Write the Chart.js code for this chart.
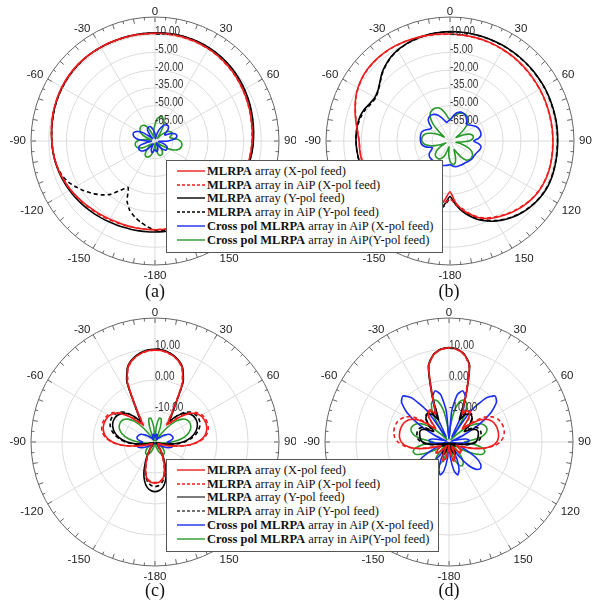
<!DOCTYPE html>
<html><head><meta charset="utf-8">
<script src="https://cdn.jsdelivr.net/npm/chart.js@4.4.1/dist/chart.umd.min.js"></script>
<style>
body{margin:0;background:#fff;width:592px;height:608px;position:relative;overflow:hidden;font-family:"Liberation Serif",serif}
canvas{position:absolute}
.legend{position:absolute;background:#fff;border:1px solid #555;box-sizing:border-box}
.row{position:absolute;left:0;height:14px;white-space:nowrap;font-size:12.5px;line-height:14px;color:#111}
.row svg{position:absolute;left:10px;top:5px}
.row span{position:absolute;left:40px;top:0}
.cap{position:absolute;font-size:18px;width:60px;text-align:center;color:#111}
</style></head><body>
<canvas id="ca" width="296" height="300" style="left:0;top:0"></canvas>
<canvas id="cb" width="296" height="300" style="left:296px;top:0"></canvas>
<canvas id="cc" width="296" height="308" style="left:0;top:300px"></canvas>
<canvas id="cd" width="296" height="308" style="left:296px;top:300px"></canvas>
<div class="cap" style="left:125px;top:281px">(a)</div>
<div class="cap" style="left:419px;top:281px">(b)</div>
<div class="cap" style="left:125px;top:580px">(c)</div>
<div class="cap" style="left:419px;top:580px">(d)</div>
<div id="leg1" class="legend" style="left:166px;top:160px;width:277px;height:93px"></div>
<div id="leg2" class="legend" style="left:166px;top:459px;width:273px;height:93px"></div>
<script>
// angles (deg, clockwise from top), 5 degree steps: 0..175, 180, -175..-5
const angles = [0,5,10,15,20,25,30,35,40,45,50,55,60,65,70,75,80,85,90,95,100,105,110,115,120,125,130,135,140,145,150,155,160,165,170,175,180,-175,-170,-165,-160,-155,-150,-145,-140,-135,-130,-125,-120,-115,-110,-105,-100,-95,-90,-85,-80,-75,-70,-65,-60,-55,-50,-45,-40,-35,-30,-25,-20,-15,-10,-5];
const angleTickLabels = ['0','30','60','90','120','150','-180','-150','-120','-90','-60','-30'];
const rTicksAB = [10, -5, -20, -35, -50, -65];
const rTicksCD = [10, 0, -10];
const seriesNames = ['MLRPA array (X-pol feed)','MLRPA array in AiP (X-pol feed)','MLRPA array (Y-pol feed)','MLRPA array in AiP (Y-pol feed)','Cross pol MLRPA array in AiP (X-pol feed)','Cross pol MLRPA array in AiP(Y-pol feed)'];

// ---------- (a) ----------
const aRedX = [11.2,11.3,11.3,11.2,11.0,10.7,10.3,9.8,9.2,8.5,7.8,7.0,
6.2,5.4,4.6,3.9,3.2,2.7,2.3,1.9,1.4,0.9,0.3,-0.3,
-0.9,-1.5,-2.1,-2.6,-3.1,-3.5,-3.9,-4.2,-4.5,-4.7,-4.8,-4.8,
-4.8,-4.8,-4.7,-4.6,-4.4,-4.1,-3.6,-2.9,-2.0,-1.0,0.1,1.3,
2.5,3.6,4.7,5.6,6.3,6.9,7.4,8.0,8.7,9.4,10.0,10.6,
11.1,11.5,11.8,12.0,12.0,11.9,11.8,11.7,11.5,11.4,11.3,11.2];
const aRedXAiP = [11.0,11.1,11.1,11.0,10.8,10.5,10.1,9.6,9.0,8.3,7.6,6.8,
6.0,5.2,4.4,3.7,3.0,2.5,2.1,1.7,1.2,0.7,0.1,-0.5,
-1.1,-1.7,-2.3,-2.8,-3.3,-3.7,-4.1,-4.4,-4.7,-4.9,-5.0,-5.0,
-5.0,-4.9,-4.8,-4.6,-4.2,-3.7,-3.0,-2.2,-1.4,-0.4,0.6,1.6,
2.7,3.7,4.7,5.6,6.3,6.9,7.4,8.0,8.7,9.4,10.0,10.5,
11.0,11.4,11.7,11.9,11.9,11.8,11.7,11.5,11.4,11.2,11.1,11.0];
const aBlackY = [11.6,11.8,11.9,11.9,11.8,11.6,11.3,10.9,10.4,9.8,9.1,8.3,
7.5,6.7,5.9,5.1,4.4,3.8,3.3,2.8,2.3,1.8,1.2,0.6,
0.0,-0.6,-1.2,-1.7,-2.2,-2.6,-2.9,-3.1,-3.2,-3.2,-3.1,-3.0,
-2.9,-2.8,-2.7,-2.5,-2.2,-1.8,-1.2,-0.5,0.3,1.1,1.9,2.8,
3.6,4.4,5.2,5.9,6.5,7.0,7.4,7.9,8.5,9.1,9.7,10.3,
10.8,11.2,11.5,11.7,11.8,11.8,11.7,11.6,11.5,11.5,11.5,11.5];
const aBlackYAiP = [11.4,11.6,11.7,11.7,11.6,11.4,11.1,10.7,10.2,9.6,8.9,8.1,
7.3,6.5,5.7,4.9,4.2,3.6,3.1,2.6,2.1,1.6,1.0,0.4,
-0.2,-0.8,-1.4,-1.9,-2.4,-2.8,-3.1,-3.3,-3.4,-3.5,-3.7,-4.0,
-4.5,-7.0,-10.2,-13.5,-17.5,-24.0,-34.5,-29.0,-21.0,-15.5,-11.0,-6.5,
-2.5,1.5,4.0,5.6,6.4,6.9,7.3,7.8,8.4,9.0,9.6,10.2,
10.7,11.1,11.4,11.6,11.7,11.7,11.6,11.5,11.4,11.4,11.4,11.4];
const aCrossX = [-74,-76,-78,-74,-70,-67,-64.5,-63.3,-63,-63.8,-66,-70,
-70,-65,-62,-61,-61.5,-64,-69,-76,-77,-74,-71,-69,
-68,-67.8,-68,-69.5,-72,-76,-78,-76,-73,-71.5,-71,-71.5,
-72.5,-72,-70.5,-70,-71,-73,-77,-77,-73,-69.5,-67,-65.5,
-64.8,-64.8,-65.5,-68,-73,-77,-73,-66,-62.5,-61,-60.5,-61.5,
-64,-68,-74,-77,-73,-69,-67.5,-67,-67,-68,-70,-72];
const aCrossY = [-66,-61.5,-59.5,-58.8,-59.5,-62,-67,-74,-77,-73,-69,-66,
-64.5,-64,-65,-67,-66,-61.5,-58.5,-57.3,-57,-57.5,-59,-62,
-67,-74,-78,-76,-72,-69,-67.5,-67,-67,-68,-71,-75,
-78,-75,-71,-68,-66,-65,-64.8,-65.5,-68,-72,-76,-74,
-69,-66,-64,-63.2,-63,-63.5,-65,-68,-73,-77,-74,-69,
-66,-64.5,-63.5,-63,-63,-63.8,-66,-70,-75,-77,-74,-70];

// ---------- (b) ----------
const bRedX = [10.6,10.4,10.3,10.2,10.0,9.8,9.5,9.2,8.9,8.6,8.3,8.0,
7.8,7.6,7.4,7.3,7.2,7.2,7.2,7.3,7.4,7.5,7.4,7.0,
6.2,5.0,3.4,1.6,-0.5,-2.8,-5.0,-7.5,-11.0,-16.0,-21.0,-28.0,
-37.0,-30.0,-22.0,-17.0,-13.0,-10.0,-7.5,-6.0,-5.0,-4.5,-4.3,-4.3,
-4.3,-4.2,-4.0,-3.7,-3.4,-3.2,-3.0,-1.5,0.5,3.0,5.5,8.0,
10.0,11.5,12.5,13.0,13.2,13.2,13.0,12.6,12.2,11.7,11.3,10.9];
const bRedXAiP = [10.4,10.2,10.1,10.0,9.8,9.6,9.3,9.0,8.7,8.4,8.1,7.8,
7.6,7.4,7.2,7.1,7.0,7.0,7.0,7.1,7.2,7.3,7.2,6.8,
6.0,4.8,3.1,1.2,-0.9,-3.2,-5.5,-8.0,-11.5,-16.5,-22.0,-26.0,
-31.0,-27.0,-21.0,-16.5,-13.0,-10.0,-7.8,-6.2,-5.2,-4.7,-4.5,-4.4,
-4.4,-4.3,-4.1,-3.8,-3.5,-3.3,-3.1,-1.7,0.3,2.8,5.3,7.8,
9.8,11.3,12.3,12.8,13.0,13.0,12.8,12.4,12.0,11.5,11.1,10.7];
const bBlackY = [12.6,12.6,12.6,12.6,12.6,12.5,12.5,12.4,12.3,12.2,12.1,12.0,
12.0,11.8,11.6,11.5,11.4,11.3,11.2,11.2,11.3,11.4,11.5,11.3,
10.5,9.3,7.8,6.0,3.8,1.2,-1.8,-5.2,-9.0,-14.0,-19.5,-26.0,
-33.0,-26.0,-19.5,-15.0,-11.5,-9.0,-7.2,-5.8,-4.8,-4.0,-3.5,-3.0,
-2.6,-2.2,-1.9,-1.5,-1.1,-0.7,-0.4,-0.3,-0.4,-1.0,-2.5,-5.0,
-6.5,-5.5,-2.5,1.5,4.5,7.0,8.8,10.0,11.0,11.7,12.2,12.5];
const bBlackYAiP = [12.4,12.4,12.4,12.4,12.4,12.3,12.3,12.2,12.1,12.0,11.9,11.8,
11.8,11.6,11.4,11.3,11.2,11.1,11.0,11.0,11.1,11.2,11.3,11.1,
10.3,9.1,7.6,5.7,3.4,0.8,-2.3,-5.8,-9.8,-15.0,-20.5,-27.0,
-31.0,-25.0,-19.0,-14.5,-11.2,-8.8,-7.0,-5.6,-4.6,-3.9,-3.4,-2.9,
-2.5,-2.1,-1.8,-1.4,-1.0,-0.6,-0.4,-0.4,-0.8,-1.8,-3.5,-6.0,
-7.2,-5.8,-2.8,1.0,4.2,6.8,8.6,9.8,10.8,11.5,12.0,12.3];
const bCrossX = [-62,-60,-57,-55,-54,-54,-54.5,-56,-58,-60,-59,-57,
-55,-53.8,-53.2,-53,-53.5,-56,-60,-56,-53.3,-53.5,-54.5,-55.5,
-56,-56,-56,-56.5,-57,-57.5,-57.5,-57.5,-57.6,-57.6,-58,-59,
-60,-59.5,-59,-58.5,-58,-58,-58,-58,-58,-58,-58,-58.5,
-60,-63,-64,-60,-57,-55.5,-55,-54.8,-54.6,-54.6,-55.5,-57.5,
-60,-61,-57,-54,-53,-53,-54,-56,-59,-62,-64,-63];
const bCrossY = [-62,-60,-58,-56.5,-55,-54.2,-54,-54.5,-56,-59,-64,-70,
-74,-68,-63,-60.5,-60,-61,-64,-70,-75,-70,-64,-60,
-58,-57.2,-57,-57.5,-59,-63,-69,-72,-67,-62,-60,-60.5,
-63,-68,-75,-72,-67,-64,-62.5,-62,-62,-62.5,-64,-67,
-72,-76,-70,-64,-60,-57.5,-56.2,-56,-56.5,-58,-61,-65,
-70,-74,-68,-60,-54,-51,-49.8,-49.5,-50,-52,-56,-60];

// ---------- (c) ----------
const cRedX = [9.7,9.5,8.8,7.6,5.6,1.0,-8.5,-13.0,-11.5,-8.5,-5.8,-4.0,
-3.0,-2.6,-2.5,-2.7,-3.3,-4.4,-6.3,-9.0,-12.5,-15.5,-17.5,-18.5,
-19.0,-19.0,-18.5,-18.5,-18.0,-17.0,-15.5,-13.5,-11.0,-8.8,-7.4,-6.9,
-6.7,-6.9,-7.4,-8.8,-11.0,-13.5,-15.5,-17.0,-18.0,-18.5,-18.5,-19.0,
-19.0,-18.5,-17.5,-15.5,-12.5,-9.0,-6.3,-4.4,-3.3,-2.7,-2.5,-2.6,
-3.0,-4.0,-5.8,-8.5,-11.5,-13.0,-8.5,1.0,5.6,7.6,8.8,9.5];
const cRedXAiP = [9.6,9.4,8.7,7.5,5.4,0.5,-9.0,-13.5,-11.0,-8.0,-5.3,-3.5,
-2.5,-2.1,-2.0,-2.2,-2.8,-4.0,-6.0,-8.8,-12.5,-15.5,-17.5,-18.5,
-19.0,-19.0,-18.5,-18.5,-18.0,-17.0,-15.5,-13.5,-11.2,-9.0,-7.6,-7.1,
-6.9,-7.1,-7.6,-9.0,-11.2,-13.5,-15.5,-17.0,-18.0,-18.5,-18.5,-19.0,
-19.0,-18.5,-17.5,-15.5,-12.5,-8.8,-6.0,-4.0,-2.8,-2.2,-2.0,-2.1,
-2.5,-3.5,-5.3,-8.0,-11.0,-13.5,-9.0,0.5,5.4,7.5,8.7,9.4];
const cBlackY = [9.9,9.7,9.0,7.8,5.8,1.5,-8.0,-11.5,-9.0,-7.0,-5.8,-5.1,
-4.9,-5.0,-5.5,-6.3,-7.5,-9.0,-11.0,-13.5,-16.0,-18.0,-19.0,-19.5,
-19.5,-19.5,-19.5,-19.0,-18.5,-17.0,-15.0,-12.5,-9.5,-7.0,-5.2,-4.3,
-4.0,-4.3,-5.2,-7.0,-9.5,-12.5,-15.0,-17.0,-18.5,-19.0,-19.5,-19.5,
-19.5,-19.5,-19.0,-18.0,-16.0,-13.5,-11.0,-9.0,-7.5,-6.3,-5.5,-5.0,
-4.9,-5.1,-5.8,-7.0,-9.0,-11.5,-8.0,1.5,5.8,7.8,9.0,9.7];
const cBlackYAiP = [9.8,9.6,8.9,7.7,5.7,1.2,-8.5,-12.0,-9.0,-6.5,-5.0,-4.3,
-4.0,-4.1,-4.6,-5.5,-6.8,-8.5,-10.5,-13.0,-15.5,-17.5,-18.8,-19.3,
-19.5,-19.5,-19.5,-19.2,-18.8,-17.5,-16.0,-13.5,-11.0,-8.5,-6.8,-5.9,
-5.6,-5.9,-6.8,-8.5,-11.0,-13.5,-16.0,-17.5,-18.8,-19.2,-19.5,-19.5,
-19.5,-19.3,-18.8,-17.5,-15.5,-13.0,-10.5,-8.5,-6.8,-5.5,-4.6,-4.1,
-4.0,-4.3,-5.0,-6.5,-9.0,-12.0,-8.5,1.2,5.7,7.7,8.9,9.6];
const cCrossX = [-18.5,-18.0,-17.5,-17.5,-18.0,-18.5,-19.0,-19.0,-18.5,-18.0,-17.0,-16.0,
-15.0,-14.5,-14.2,-14.0,-14.2,-15.0,-16.0,-15.0,-14.2,-14.2,-14.8,-15.8,
-17.0,-18.0,-18.8,-19.3,-19.5,-19.5,-19.5,-19.5,-19.5,-19.5,-19.5,-19.5,
-19.5,-19.5,-19.5,-19.5,-19.5,-19.5,-19.5,-19.5,-19.5,-19.3,-18.8,-18.0,
-17.0,-15.8,-14.8,-14.2,-14.2,-15.0,-16.0,-15.0,-14.2,-14.0,-14.2,-14.5,
-15.0,-16.0,-17.0,-18.0,-18.5,-19.0,-19.0,-18.5,-18.0,-17.5,-17.5,-18.0];
const cCrossY = [-19.0,-15.0,-12.2,-12.2,-15.0,-18.5,-19.5,-18.0,-14.0,-10.5,-8.5,-7.5,
-7.2,-7.3,-7.8,-8.8,-10.3,-12.3,-14.5,-16.5,-18.0,-19.0,-19.5,-19.3,
-18.5,-17.5,-16.5,-15.8,-15.3,-15.2,-15.4,-16.0,-17.0,-18.2,-19.2,-19.6,
-19.7,-19.6,-19.2,-18.2,-17.0,-16.0,-15.4,-15.2,-15.3,-15.8,-16.5,-17.5,
-18.5,-19.3,-19.5,-19.0,-18.0,-16.5,-14.5,-12.3,-10.3,-8.8,-7.8,-7.3,
-7.2,-7.5,-8.5,-10.5,-14.0,-18.0,-19.5,-18.5,-15.0,-12.2,-12.2,-15.0];

// ---------- (d) ----------
const dRedX = [10.4,10.0,8.6,5.5,-4.0,-10.0,-8.5,-8.5,-10.5,-14.0,-11.0,-7.5,
-5.5,-4.5,-4.0,-3.8,-3.8,-4.0,-4.6,-6.0,-8.5,-12.0,-15.5,-17.0,
-16.5,-15.5,-15.0,-15.5,-17.0,-18.5,-18.0,-16.0,-14.5,-14.0,-15.0,-17.5,
-19.0,-17.5,-15.0,-14.0,-14.5,-16.0,-18.0,-18.5,-17.0,-15.5,-15.0,-15.5,
-16.5,-17.0,-15.5,-12.0,-8.5,-6.0,-4.6,-4.0,-3.8,-3.8,-4.0,-4.5,
-5.5,-7.5,-11.0,-14.0,-10.5,-8.5,-8.5,-10.0,-4.0,5.5,8.6,10.0];
const dRedXAiP = [10.3,9.9,8.5,5.3,-4.5,-9.5,-8.0,-8.0,-10.0,-13.5,-10.0,-6.0,
-3.8,-2.6,-2.0,-1.8,-1.9,-2.4,-3.5,-5.5,-8.5,-12.5,-16.0,-17.5,
-16.5,-15.0,-14.5,-15.0,-16.5,-18.5,-18.0,-15.5,-14.0,-13.5,-14.5,-17.0,
-19.0,-17.0,-14.5,-13.5,-14.0,-15.5,-18.0,-18.5,-16.5,-15.0,-14.5,-15.0,
-16.5,-17.5,-16.0,-12.5,-8.5,-5.5,-3.5,-2.4,-1.9,-1.8,-2.0,-2.6,
-3.8,-6.0,-10.0,-13.5,-10.0,-8.0,-8.0,-9.5,-4.5,5.3,8.5,9.9];
const dBlackY = [10.5,10.1,8.7,5.6,-4.0,-12.0,-10.0,-9.0,-8.8,-9.5,-11.5,-14.0,
-12.0,-10.5,-10.0,-10.2,-10.5,-10.8,-11.5,-13.0,-15.5,-17.5,-18.5,-18.0,
-17.5,-18.0,-19.0,-19.5,-19.0,-17.5,-16.0,-15.5,-16.5,-18.0,-19.0,-19.5,
-19.5,-19.5,-19.0,-18.0,-16.5,-15.5,-16.0,-17.5,-19.0,-19.5,-19.0,-18.0,
-17.5,-18.0,-18.5,-17.5,-15.5,-13.0,-11.5,-10.8,-10.5,-10.2,-10.0,-10.5,
-12.0,-14.0,-11.5,-9.5,-8.8,-9.0,-10.0,-12.0,-4.0,5.6,8.7,10.1];
const dBlackYAiP = [10.4,10.0,8.6,5.4,-4.5,-11.0,-9.0,-8.5,-8.5,-9.5,-11.5,-13.0,
-10.5,-9.5,-9.2,-9.3,-9.5,-10.0,-11.0,-12.5,-15.0,-17.5,-18.5,-18.0,
-17.5,-18.0,-19.0,-19.5,-19.0,-17.5,-16.0,-15.5,-16.5,-18.0,-19.0,-19.5,
-19.5,-19.5,-19.0,-18.0,-16.5,-15.5,-16.0,-17.5,-19.0,-19.5,-19.0,-18.0,
-17.5,-18.0,-18.5,-17.5,-15.0,-12.5,-11.0,-10.0,-9.5,-9.3,-9.2,-9.5,
-10.5,-13.0,-11.5,-9.5,-8.5,-8.5,-9.0,-11.0,-4.5,5.4,8.6,10.0];
const dCrossX = [-19.0,-10.0,-4.5,-2.9,-4.5,-10.0,-18.0,-8.0,-1.5,1.0,0.0,-3.5,
-9.0,-15.0,-19.0,-17.0,-14.5,-13.5,-14.0,-16.0,-18.5,-19.5,-18.0,-14.0,
-10.0,-7.5,-6.7,-7.5,-10.0,-14.5,-18.5,-14.0,-10.5,-9.0,-10.5,-15.0,
-19.5,-15.0,-10.5,-9.0,-10.5,-14.0,-18.5,-14.5,-10.0,-7.5,-6.7,-7.5,
-10.0,-14.0,-18.0,-19.5,-18.5,-16.0,-14.0,-13.5,-14.5,-17.0,-19.0,-15.0,
-9.0,-3.5,0.0,1.0,-1.5,-8.0,-18.0,-10.0,-4.5,-2.9,-4.5,-10.0];
const dCrossY = [-19.0,-15.0,-9.5,-6.5,-5.5,-6.5,-10.0,-16.0,-19.0,-17.0,-13.0,-10.0,
-8.2,-7.3,-7.0,-7.5,-9.0,-12.0,-15.0,-12.0,-9.0,-8.0,-8.5,-11.0,
-15.0,-18.5,-19.0,-17.0,-14.0,-12.0,-11.3,-11.5,-13.0,-15.5,-18.0,-19.5,
-19.7,-19.5,-18.0,-15.5,-13.0,-11.5,-11.3,-12.0,-14.0,-17.0,-19.0,-18.5,
-15.0,-11.0,-8.5,-8.0,-9.0,-12.0,-15.0,-12.0,-9.0,-7.5,-7.0,-7.3,
-8.2,-10.0,-13.0,-17.0,-19.0,-16.0,-10.0,-6.5,-5.5,-6.5,-9.5,-15.0];

const styles = [
  {color:'#ee1c1c', dash:[]},
  {color:'#ee1c1c', dash:[4,3]},
  {color:'#000000', dash:[]},
  {color:'#000000', dash:[4,3]},
  {color:'#1a2cf0', dash:[]},
  {color:'#2a9a2a', dash:[]}
];

const polarDeco = {
  id: 'polarDeco',
  beforeDatasetsDraw(chart) {
    const s = chart.scales.r, ctx = chart.ctx, R = s.drawingArea;
    ctx.save();
    ctx.strokeStyle = '#666'; ctx.lineWidth = 1;
    for (let i = 0; i < angles.length; i++) {
      const len = (i % 2 === 0) ? 5 : 3;
      const p1 = s.getPointPosition(i, R), p2 = s.getPointPosition(i, R - len);
      ctx.beginPath(); ctx.moveTo(p1.x, p1.y); ctx.lineTo(p2.x, p2.y); ctx.stroke();
    }
    ctx.restore();
  },
  afterDatasetsDraw(chart, args, opts) {
    const s = chart.scales.r, ctx = chart.ctx, R = s.drawingArea;
    ctx.save();
    ctx.fillStyle = '#333';
    ctx.font = '12.5px "Liberation Sans", Arial, sans-serif';
    ctx.textAlign = 'left'; ctx.textBaseline = 'middle';
    opts.rTicks.forEach(v => {
      const d = s.getDistanceFromCenterForValue(v);
      ctx.save();
      ctx.translate(s.xCenter, s.yCenter - d - 3);
      ctx.scale(0.8, 1);
      ctx.fillText(v.toFixed(2), 0, 0);
      ctx.restore();
    });
    ctx.font = '11.5px "Liberation Sans", Arial, sans-serif';
    ctx.fillStyle = '#222';
    angleTickLabels.forEach((lab, k) => {
      const i = k * 6; const a = k * 30;
      const p = s.getPointPosition(i, R + 5);
      ctx.textAlign = (a === 0 || a === 180) ? 'center' : (a < 180 ? 'left' : 'right');
      if (a === 90 || a === 270) { ctx.textBaseline = 'middle'; }
      else if (a < 90 || a > 270) { ctx.textBaseline = 'alphabetic'; }
      else { ctx.textBaseline = 'top'; }
      let y = p.y;
      if (ctx.textBaseline === 'alphabetic') y = s.getPointPosition(i, R + 2).y;
      ctx.fillText(lab, p.x, y);
    });
    ctx.restore();
  }
};

function makeChart(id, series, rMin, rMax, step, rTicks, pad) {
  const datasets = series.map((d, k) => ({
    label: seriesNames[k], data: d,
    borderColor: styles[k].color, borderDash: styles[k].dash,
    borderWidth: 1.6, pointRadius: 0, fill: false, tension: 0.2
  }));
  const nTicks = Math.round((rMax - rMin) / step);
  return new Chart(document.getElementById(id), {
    type: 'radar',
    data: { labels: angles, datasets },
    options: {
      responsive: false, animation: false,
      layout: { padding: pad },
      plugins: { legend: { display: false }, tooltip: { enabled: false }, polarDeco: { rTicks } },
      elements: { line: { borderJoinStyle: 'round' } },
      scales: { r: {
        min: rMin, max: rMax, startAngle: 0,
        ticks: { display: false, stepSize: step },
        pointLabels: { display: false },
        grid: { circular: true, color: c => c.index === nTicks ? '#666' : '#dcdcdc', lineWidth: 1 },
        angleLines: { color: c => (c.index % 6 === 0) ? '#dcdcdc' : 'rgba(0,0,0,0)', lineWidth: 1 }
      } }
    },
    plugins: [polarDeco]
  });
}

makeChart('ca', [aRedX, aRedXAiP, aBlackY, aBlackYAiP, aCrossX, aCrossY], -80, 25, 15, rTicksAB, {left:31, top:17, right:17, bottom:35});
makeChart('cb', [bRedX, bRedXAiP, bBlackY, bBlackYAiP, bCrossX, bCrossY], -80, 25, 15, rTicksAB, {left:30, top:17, right:18, bottom:35});
makeChart('cc', [cRedX, cRedXAiP, cBlackY, cBlackYAiP, cCrossX, cCrossY], -20, 20, 10, rTicksCD, {left:31, top:18, right:17, bottom:42});
makeChart('cd', [dRedX, dRedXAiP, dBlackY, dBlackYAiP, dCrossX, dCrossY], -20, 20, 10, rTicksCD, {left:29, top:18, right:19, bottom:42});

function buildLegend(id, lineColors) {
  const el = document.getElementById(id);
  seriesNames.forEach((name, k) => {
    const row = document.createElement('div');
    row.className = 'row';
    row.style.top = (3 + k * 13.7) + 'px';
    const st = styles[k];
    const dash = st.dash.length ? 'stroke-dasharray="3,2"' : '';
    const col = lineColors ? lineColors[k] : st.color;
    row.innerHTML = '<svg width="28" height="4"><line x1="0" y1="2" x2="28" y2="2" stroke="' + col + '" stroke-width="1.4" ' + dash + '/></svg>';
    const span = document.createElement('span');
    const bold = name.startsWith('Cross') ? 'Cross pol MLRPA' : 'MLRPA';
    span.innerHTML = '<b>' + bold + '</b>' + name.slice(bold.length);
    row.appendChild(span);
    el.appendChild(row);
  });
}
buildLegend('leg1');
buildLegend('leg2', ['#ee1c1c','#ee1c1c','#444','#444','#1a2cf0','#2a9a2a']);
</script>
</body></html>
